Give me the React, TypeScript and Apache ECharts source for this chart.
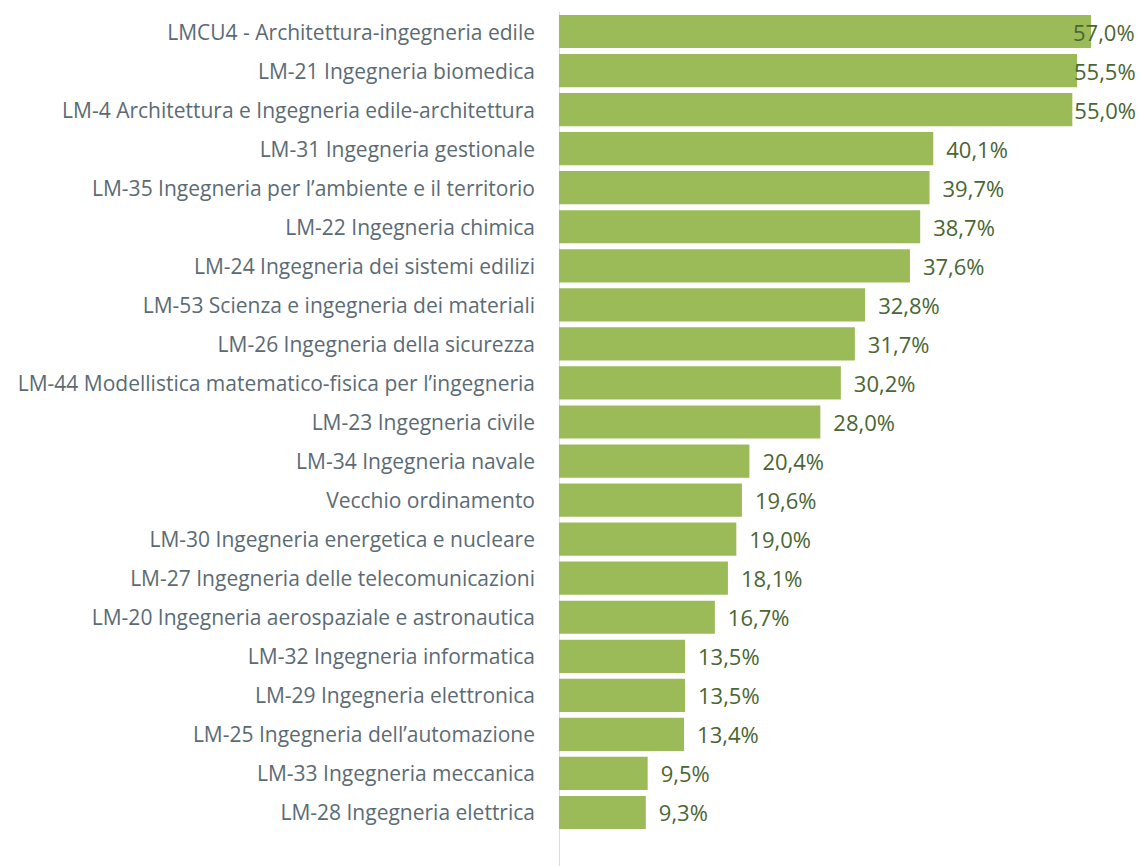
import React, { useEffect, useRef } from "react";
import * as echarts from "echarts";

const categories: string[] = [
  "LMCU4 - Architettura-ingegneria edile",
  "LM-21 Ingegneria biomedica",
  "LM-4 Architettura e Ingegneria edile-architettura",
  "LM-31 Ingegneria gestionale",
  "LM-35 Ingegneria per l’ambiente e il territorio",
  "LM-22 Ingegneria chimica",
  "LM-24 Ingegneria dei sistemi edilizi",
  "LM-53 Scienza e ingegneria dei materiali",
  "LM-26 Ingegneria della sicurezza",
  "LM-44 Modellistica matematico-fisica per l’ingegneria",
  "LM-23 Ingegneria civile",
  "LM-34 Ingegneria navale",
  "Vecchio ordinamento",
  "LM-30 Ingegneria energetica e nucleare",
  "LM-27 Ingegneria delle telecomunicazioni",
  "LM-20 Ingegneria aerospaziale e astronautica",
  "LM-32 Ingegneria informatica",
  "LM-29 Ingegneria elettronica",
  "LM-25 Ingegneria dell’automazione",
  "LM-33 Ingegneria meccanica",
  "LM-28 Ingegneria elettrica",
];

const values: number[] = [
  57.0, 55.5, 55.0, 40.1, 39.7, 38.7, 37.6, 32.8, 31.7, 30.2, 28.0, 20.4, 19.6,
  19.0, 18.1, 16.7, 13.5, 13.5, 13.4, 9.5, 9.3,
];

// label shifts for the three longest bars (labels pulled back onto the bar end)
const labelShift: number[] = [-31, -16, -11];

export default function App() {
  const ref = useRef<HTMLDivElement>(null);
  useEffect(() => {
    if (!ref.current) return;
    const chart = echarts.init(ref.current, undefined, { renderer: "svg" });
    const font = "'Open Sans', Lato, sans-serif";
    const data = values.map((v, i) => {
      const item: any = { value: v };
      if (i < labelShift.length) {
        item.label = { offset: [labelShift[i], 0] };
      }
      return item;
    });
    chart.setOption({
      animation: false,
      backgroundColor: "#ffffff",
      grid: { left: 559, top: 12, height: 820, right: 24 },
      xAxis: {
        type: "value",
        min: 0,
        max: 60,
        show: false,
      },
      yAxis: {
        type: "category",
        data: categories,
        inverse: true,
        axisLine: { show: true, lineStyle: { color: "#d9dde0", width: 1 } },
        axisTick: { show: false },
        axisLabel: {
          color: "#5b6b75",
          fontFamily: font,
          fontSize: 21,
          margin: 24,
        },
      },
      series: [
        {
          type: "bar",
          data,
          barCategoryGap: "15%",
          itemStyle: { color: "#9bbb59" },
          label: {
            show: true,
            position: "right",
            distance: 13,
            color: "#4a6632",
            fontFamily: font,
            fontSize: 22,
            formatter: (p: any) => p.value.toFixed(1).replace(".", ",") + "%",
          },
        },
      ],
      graphic: [
        {
          type: "line",
          shape: { x1: 559.5, y1: 832, x2: 559.5, y2: 866 },
          style: { stroke: "#d9dde0", lineWidth: 1 },
          silent: true,
        },
      ],
    });
    return () => chart.dispose();
  }, []);
  return (
    <div
      ref={ref}
      style={{ position: "absolute", left: 0, top: 0, width: 1143, height: 866 }}
    />
  );
}
